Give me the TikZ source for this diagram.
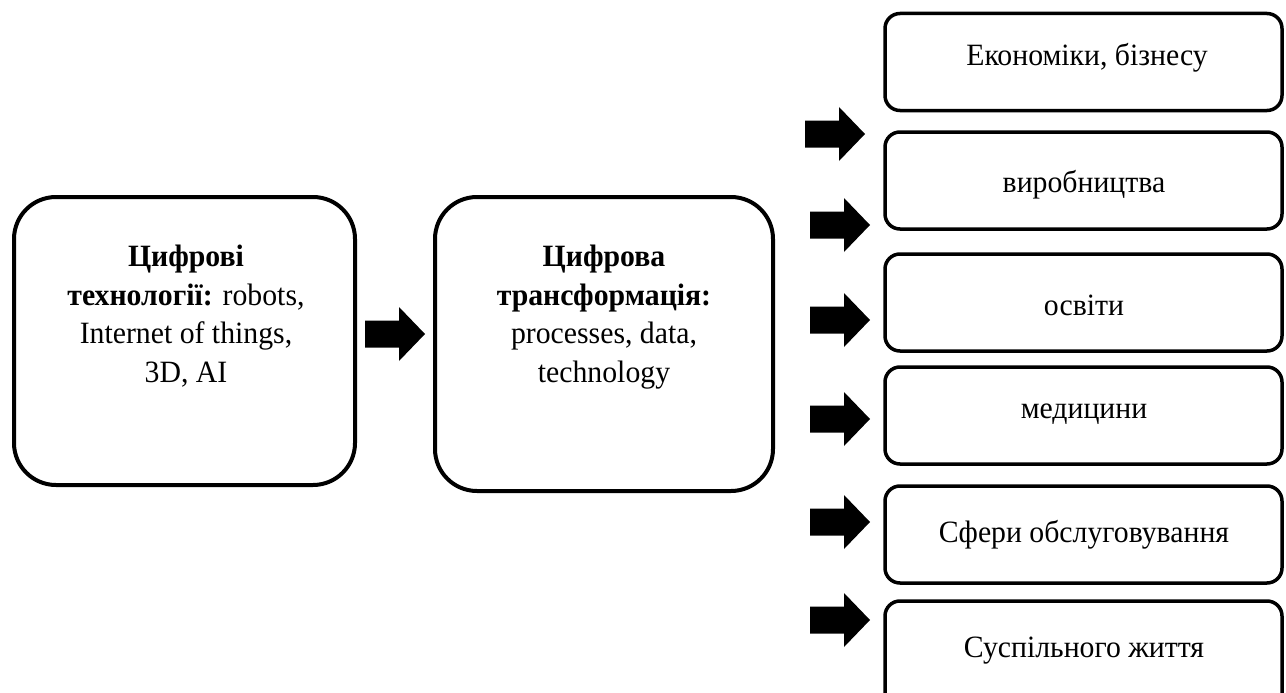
\documentclass[tikz,border=0pt]{standalone}
\usepackage{fontspec}
\setmainfont[FakeStretch=0.96]{Liberation Serif}
\begin{document}
\begin{tikzpicture}[x=1pt,y=-1pt,
  bigbox/.style={draw, line width=4pt, rounded corners=42pt, inner sep=0pt},
  smallbox/.style={draw, line width=3.5pt, rounded corners=15pt, inner sep=0pt,
    minimum width=397pt, minimum height=97pt},
  lbl/.style={inner sep=0pt, font=\fontsize{31}{38.5}\selectfont, align=center},
  blk/.style={fill=black, draw=none}]
\useasboundingbox (0,0) rectangle (1286,693);
% main boxes
\node[bigbox, minimum width=341pt, minimum height=288pt] (tech) at (184.5,341) {};
\node[bigbox, minimum width=338pt, minimum height=294pt] (trans) at (604,344) {};
\node[lbl, anchor=north] (techtxt) at (186,245)
  {\textbf{Цифрові}\\\textbf{технології:} robots,\\Internet of things,\\3D, AI};
\node[lbl, anchor=north] (transtxt) at (604,245)
  {\textbf{Цифрова}\\\textbf{трансформація:}\\processes, data,\\technology};
% right boxes
\node[smallbox] (r1) at (1083.5,62) {};
\node[smallbox] (r2) at (1083.5,180.5) {};
\node[smallbox] (r3) at (1083.5,302.5) {};
\node[smallbox] (r4) at (1083.5,415.5) {};
\node[smallbox] (r5) at (1083.5,534.5) {};
\node[smallbox, minimum height=110pt] (r6) at (1083.5,656) {};
\node[lbl, anchor=base] (t1) at (1087,66) {Економіки, бізнесу};
\node[lbl, anchor=base] (t2) at (1084,192) {виробництва};
\node[lbl, anchor=base] (t3) at (1084,315) {освіти};
\node[lbl, anchor=base] (t4) at (1084,418) {медицини};
\node[lbl, anchor=base] (t5) at (1084,542) {Сфери обслуговування};
\node[lbl, anchor=base] (t6) at (1084,657) {Суспільного життя};
% block arrows
\newcommand\myblockarrow[2]{%
  \fill[blk] (#1,#2-13.5) -- (#1+34,#2-13.5) -- (#1+34,#2-27) -- (#1+60,#2)
    -- (#1+34,#2+27) -- (#1+34,#2+13.5) -- (#1,#2+13.5) -- cycle;}
\myblockarrow{365}{334}
\myblockarrow{805}{134}
\myblockarrow{810}{225}
\myblockarrow{810}{320}
\myblockarrow{810}{419}
\myblockarrow{810}{522}
\myblockarrow{810}{620}
\end{tikzpicture}
\end{document}
